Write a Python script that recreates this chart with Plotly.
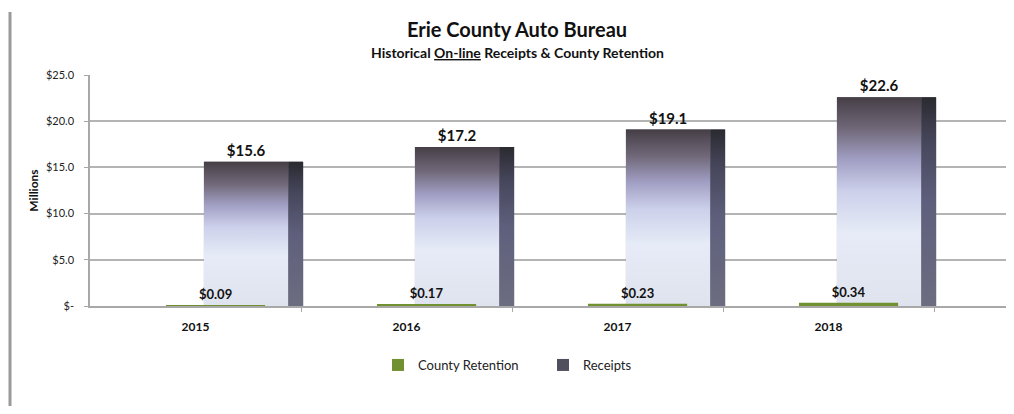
import plotly.graph_objects as go

# ---------------- data ----------------
years = ["2015", "2016", "2017", "2018"]
receipts = [15.6, 17.2, 19.1, 22.6]          # $ millions
retention = [0.09, 0.17, 0.23, 0.34]         # $ millions
y_tickvals = [0, 5, 10, 15, 20, 25]
y_ticktext = ["$-", "$5.0", "$10.0", "$15.0", "$20.0", "$25.0"]

# ---------------- style ----------------
PAGE = 8                           # browser default body margin
W, H = 1014 - 2 * PAGE, 414 - 2 * PAGE
ML, MR, MT, MB = 90 - PAGE, 0, 75 - PAGE, H - (306 - PAGE)
FONT = "Lato"
FACE_OFF, FACE_W = 0.04, 0.40      # receipts front face (category units)
SIDE_W = 0.07                      # receipts dark side
RET_OFF, RET_W = -0.14, 0.47       # county retention bar
PW, PH = W - ML - MR, H - MT - MB
SLOT = 211.0                       # px per category
XR = [-0.5, -0.5 + PW / SLOT]
YR = [0, 25]
GRAD = [[0.0, "#dfe3ee"], [0.35, "#e6ebf7"], [0.55, "#ccd0ea"],
        [0.70, "#a19fc4"], [0.85, "#706878"], [1.0, "#463e46"]]
SIDE_GRAD = [[0.0, "#6c6d80"], [0.5, "#5e5f7c"], [0.8, "#45455a"], [1.0, "#2a2a30"]]


def px_x(p):   # screen pixel -> paper x
    return (p - PAGE - ML) / PW


def px_y(p):   # screen pixel -> paper y
    return (H - MB - (p - PAGE)) / PH


xpos = list(range(len(years)))
fig = go.Figure()

# receipts front face (legend / values)
fig.add_trace(go.Bar(
    x=xpos, y=receipts, name="Receipts", offset=FACE_OFF, width=FACE_W,
    marker=dict(color="#4f4f5e", line=dict(width=0)),
    text=[f"<b>${v:.1f}</b>" for v in receipts], textposition="outside",
    textfont=dict(family=FONT, size=15, color="#111111"),
    cliponaxis=False, legendrank=2, hoverinfo="x+y"))
# receipts dark side
fig.add_trace(go.Bar(
    x=xpos, y=receipts, name="Receipts side", offset=FACE_OFF + FACE_W, width=SIDE_W,
    marker=dict(color="#4d4d60", line=dict(width=0)), showlegend=False, hoverinfo="skip"))

# gradient overlays for each receipts bar (face and side), built from the data
for i, v in zip(xpos, receipts):
    x0, x1 = i + FACE_OFF, i + FACE_OFF + FACE_W
    fig.add_trace(go.Scatter(
        x=[x0, x0, x1, x1, x0], y=[0, v, v, 0, 0], mode="lines", fill="toself",
        line=dict(width=0, color="rgba(0,0,0,0)"),
        fillgradient=dict(type="vertical", colorscale=GRAD, start=0, stop=v),
        showlegend=False, hoverinfo="skip"))
    s0, s1 = x1, x1 + SIDE_W
    fig.add_trace(go.Scatter(
        x=[s0, s0, s1, s1, s0], y=[0, v, v, 0, 0], mode="lines", fill="toself",
        line=dict(width=0, color="rgba(0,0,0,0)"),
        fillgradient=dict(type="vertical", colorscale=SIDE_GRAD, start=0, stop=v),
        showlegend=False, hoverinfo="skip"))

# county retention on overlaying axes so it sits on top
fig.add_trace(go.Bar(
    x=xpos, y=retention, name="County Retention", offset=RET_OFF, width=RET_W,
    marker=dict(color="#71902f", line=dict(width=0)),
    text=[f"<b>${v:.2f}</b>" for v in retention], textposition="outside",
    textfont=dict(family=FONT, size=13, color="#111111"),
    cliponaxis=False, legendrank=1, xaxis="x2", yaxis="y2"))

fig.update_layout(
    width=W, height=H, margin=dict(l=ML, r=MR, t=MT, b=MB, autoexpand=False),
    paper_bgcolor="white", plot_bgcolor="white",
    barmode="overlay", showlegend=True,
    font=dict(family=FONT, color="#222222"),
    title=dict(text="<b>Erie County Auto Bureau</b>", x=(517 - PAGE) / W, xanchor="center",
               xref="container", y=1 - (30 - PAGE) / H, yanchor="middle", yref="container",
               font=dict(family=FONT, size=20, color="#111111")),
    xaxis=dict(range=XR, tickvals=xpos, ticktext=[f"<b>{y}</b>" for y in years],
               tickfont=dict(family=FONT, size=12, color="#111111"),
               showgrid=False, zeroline=False, showline=True, linecolor="#a8a8a8",
               linewidth=1.5, ticks="", ticklabelstandoff=9, automargin=False,
               minor=dict(tickvals=[0.5, 1.5, 2.5, 3.5], ticks="outside",
                          ticklen=4, tickcolor="#a8a8a8", showgrid=False),
               fixedrange=True),
    yaxis=dict(range=YR, tickvals=y_tickvals, ticktext=y_ticktext,
               tickfont=dict(family=FONT, size=11, color="#222222"),
               showgrid=True, gridcolor="#b4b4b4", gridwidth=1.5,
               zeroline=False, showline=True, linecolor="#a8a8a8", linewidth=1.5,
               ticks="outside", ticklen=4, tickcolor="#a8a8a8", ticklabelstandoff=8,
               automargin=False,
               title=dict(text="<b>Millions</b>", standoff=5,
                          font=dict(family=FONT, size=12, color="#111111")),
               fixedrange=True),
    xaxis2=dict(range=XR, overlaying="x", visible=False, fixedrange=True),
    yaxis2=dict(range=YR, overlaying="y", visible=False, fixedrange=True),
    legend=dict(orientation="h", x=px_x(378), xanchor="left",
                y=px_y(365), yanchor="middle",
                entrywidth=120, entrywidthmode="pixels",
                font=dict(family=FONT, size=13, color="#222222"),
                bgcolor="rgba(0,0,0,0)"),
    annotations=[dict(
        text="<b>Historical <u>On-line</u> Receipts &amp; County Retention</b>",
        xref="paper", yref="paper", x=px_x(517), y=px_y(53),
        xanchor="center", yanchor="middle",
        showarrow=False, font=dict(family=FONT, size=14, color="#111111"))],
    shapes=[
        dict(type="line", xref="paper", yref="paper",
             x0=px_x(10), x1=px_x(10), y0=px_y(12), y1=px_y(406),
             line=dict(color="#9a9a9a", width=3)),
    ],
)

fig.write_html("out.html")
